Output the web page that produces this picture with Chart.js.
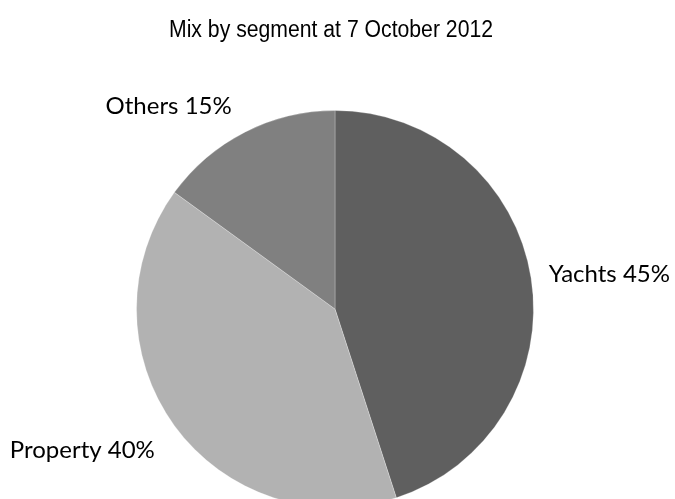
<!DOCTYPE html>
<html>
<head>
<meta charset="utf-8">
<script src="https://cdn.jsdelivr.net/npm/chart.js@4/dist/chart.umd.min.js"></script>
<style>
  html, body { margin: 0; padding: 0; background: #fff; overflow: hidden; }
  #wrap { width: 675px; height: 499px; overflow: hidden; }
</style>
</head>
<body>
<div id="wrap"><canvas id="pie" width="675" height="520"></canvas></div>
<script>
const segments = ["Yachts", "Property", "Others"];
const shares = [45, 40, 15];
const fills = ["#5f5f5f", "#b2b2b2", "#808080"];
const titleText = "Mix by segment at 7 October 2012";

const labelFont = "24px Lato";

// title above the pie, squeezed to a narrow width
const titlePlugin = {
  id: "narrowTitle",
  afterDraw(chart) {
    const ctx = chart.ctx;
    ctx.save();
    ctx.font = '23px "Liberation Sans", Arial, sans-serif';
    const w = ctx.measureText(titleText).width;
    const sx = 324 / w;
    ctx.translate(331, 37);
    ctx.scale(sx, 1);
    ctx.fillStyle = "#000";
    ctx.textAlign = "center";
    ctx.textBaseline = "alphabetic";
    ctx.fillText(titleText, 0, 0);
    ctx.restore();
  }
};

// "Name NN%" outside each slice, placed along the slice's middle angle
const outsideLabels = {
  id: "outsideLabels",
  afterDatasetsDraw(chart) {
    const ctx = chart.ctx;
    const arcs = chart.getDatasetMeta(0).data;
    ctx.save();
    ctx.font = labelFont;
    ctx.fillStyle = "#000";
    ctx.textBaseline = "alphabetic";
    arcs.forEach((arc, i) => {
      const p = arc.getProps(["x", "y", "startAngle", "endAngle", "outerRadius"], true);
      const mid = (p.startAngle + p.endAngle) / 2;
      const dist = p.outerRadius + 18;
      const cos = Math.cos(mid), sin = Math.sin(mid);
      const right = cos >= 0;
      const ax = p.x + cos * dist + (right ? 0 : -5);
      // labels below the centre hang from the anchor, labels above sit on it
      const ay = p.y + sin * dist + sin * (sin > 0 ? 22 : 12);
      ctx.textAlign = right ? "left" : "right";
      ctx.fillText(segments[i] + " " + shares[i] + "%", ax, ay + 9);
    });
    ctx.restore();
  }
};

new Chart(document.getElementById("pie").getContext("2d"), {
  type: "pie",
  data: {
    labels: segments,
    datasets: [{
      data: shares,
      backgroundColor: fills,
      borderColor: "rgba(255,255,255,0.25)",
      borderWidth: 1
    }]
  },
  options: {
    responsive: false,
    animation: false,
    layout: { padding: { left: 136, right: 141, top: 110, bottom: 12 } },
    plugins: {
      legend: { display: false },
      tooltip: { enabled: false },
      title: { display: false }
    }
  },
  plugins: [titlePlugin, outsideLabels]
});
</script>
</body>
</html>
